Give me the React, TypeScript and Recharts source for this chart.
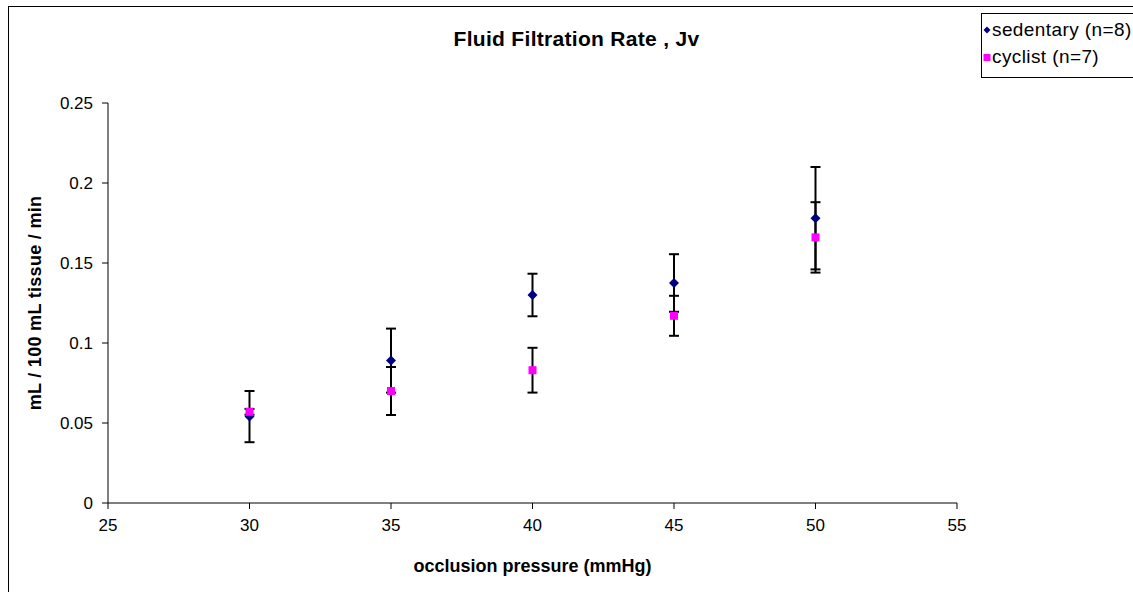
import { ScatterChart, Scatter, XAxis, YAxis, ErrorBar, Label } from 'recharts';

const pressures = [30, 35, 40, 45, 50];
const sedentaryMean = [0.054, 0.089, 0.13, 0.1375, 0.178];
const sedentaryErr = [0.016, 0.02, 0.0133, 0.018, 0.032];
const cyclistMean = [0.057, 0.07, 0.083, 0.117, 0.166];
const cyclistErr = [0.0018, 0.015, 0.014, 0.0125, 0.022];

const xTicks = [25, 30, 35, 40, 45, 50, 55];
const yTicks = [0, 0.05, 0.1, 0.15, 0.2, 0.25];

const sedentaryData = pressures.map((p, i) => ({ x: p, y: sedentaryMean[i], err: sedentaryErr[i] }));
const cyclistData = pressures.map((p, i) => ({ x: p, y: cyclistMean[i], err: cyclistErr[i] }));

const FONT = 'Liberation Sans, Arial, sans-serif';

// diamond marker for sedentary
const Diamond = (props: any) => {
  const { cx, cy } = props;
  const r = 5;
  return <polygon points={`${cx},${cy - r} ${cx + r},${cy} ${cx},${cy + r} ${cx - r},${cy}`} fill="#000080" />;
};

// square marker for cyclist
const Square = (props: any) => {
  const { cx, cy } = props;
  const s = 8;
  return <rect x={cx - s / 2} y={cy - s / 2} width={s} height={s} fill="#FF00FF" />;
};

export default function App() {
  return (
    <div style={{ position: 'fixed', left: 0, top: 0, width: 1133, height: 592, overflow: 'hidden', background: '#fff', fontFamily: FONT }}>
      <div style={{ position: 'absolute', left: 8, top: 6, width: 1160, height: 620, border: '1px solid #000', boxSizing: 'border-box' }} />

      <div style={{ position: 'absolute', left: 0, width: 1153, top: 27, textAlign: 'center', fontWeight: 'bold', fontSize: 21, letterSpacing: 0.3 }}>
        Fluid Filtration Rate , Jv
      </div>

      <div style={{ position: 'absolute', left: 981, top: 13, width: 170, height: 65, border: '1px solid #000', boxSizing: 'border-box', fontSize: 19, letterSpacing: 0.4, background: '#fff' }}>
        <div style={{ position: 'absolute', left: 0, top: 5, whiteSpace: 'nowrap', display: 'flex', alignItems: 'center' }}>
          <svg width={10} height={12}>
            <polygon points="5,2.5 8.5,6 5,9.5 1.5,6" fill="#000080" />
          </svg>
          <span>sedentary (n=8)</span>
        </div>
        <div style={{ position: 'absolute', left: 0, top: 32, whiteSpace: 'nowrap', display: 'flex', alignItems: 'center' }}>
          <svg width={10} height={12}>
            <rect x={1.5} y={3} width={7} height={7} fill="#FF00FF" />
          </svg>
          <span>cyclist (n=7)</span>
        </div>
      </div>

      <div style={{ position: 'absolute', left: 0, top: 0 }}>
        <ScatterChart width={1133} height={592} margin={{ top: 103, right: 176, bottom: 59, left: 48 }}>
          <XAxis
            type="number"
            dataKey="x"
            domain={[25, 55]}
            ticks={xTicks}
            tick={{ fill: '#000', fontSize: 17, fontFamily: FONT }}
            axisLine={{ stroke: '#000', strokeWidth: 1 }}
            tickLine={{ stroke: '#000' }}
            tickSize={6}
            tickMargin={10}
            height={30}
          >
            <Label value="occlusion pressure (mmHg)" position="bottom" offset={26} style={{ fontWeight: 'bold', fontSize: 18, fill: '#000', fontFamily: FONT }} />
          </XAxis>
          <YAxis
            type="number"
            dataKey="y"
            domain={[0, 0.25]}
            ticks={yTicks}
            tick={{ fill: '#000', fontSize: 17, fontFamily: FONT }}
            axisLine={{ stroke: '#000', strokeWidth: 1 }}
            tickLine={{ stroke: '#000' }}
            tickSize={6}
            tickMargin={9}
            width={60}
          >
            <Label value="mL / 100 mL tissue / min" angle={-90} position="left" offset={13} style={{ fontWeight: 'bold', fontSize: 18, letterSpacing: 0.3, fill: '#000', fontFamily: FONT, textAnchor: 'middle' }} />
          </YAxis>
          <Scatter data={sedentaryData} shape={<Diamond />} isAnimationActive={false}>
            <ErrorBar dataKey="err" direction="y" width={5} stroke="#000" strokeWidth={2} isAnimationActive={false} />
          </Scatter>
          <Scatter data={cyclistData} shape={<Square />} isAnimationActive={false}>
            <ErrorBar dataKey="err" direction="y" width={5} stroke="#000" strokeWidth={2} isAnimationActive={false} />
          </Scatter>
        </ScatterChart>
      </div>
    </div>
  );
}
